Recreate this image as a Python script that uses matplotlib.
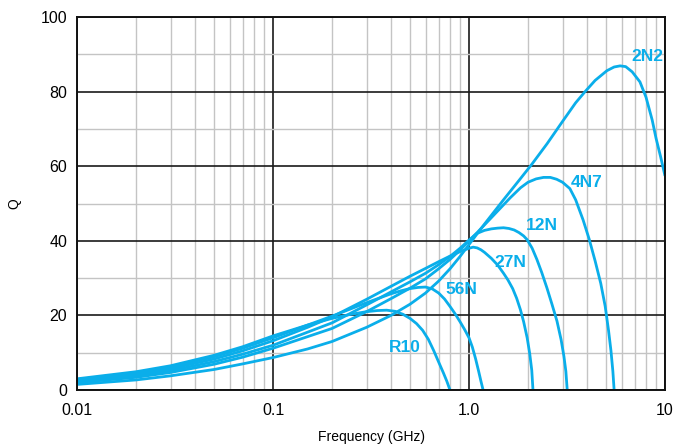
import numpy as np
import matplotlib.pyplot as plt
from matplotlib.ticker import FixedLocator, NullFormatter

plt.rcParams['font.family'] = ['Liberation Sans', 'DejaVu Sans']

# Q проти частоти для шести номіналів
f_r10 = [0.01, 0.02, 0.03, 0.05, 0.07, 0.1, 0.15, 0.2, 0.25, 0.3, 0.34, 0.38, 0.42, 0.46,
         0.5, 0.54, 0.58, 0.62, 0.66, 0.70, 0.74, 0.77, 0.80]
q_r10 = [3.0, 4.9, 6.5, 9.3, 11.6, 14.5, 17.4, 19.2, 20.3, 21.0, 21.3, 21.4, 21.1, 20.3,
         19.2, 17.8, 16.0, 13.6, 10.6, 7.5, 4.6, 2.4, 0.0]

f_56n = [0.01, 0.02, 0.03, 0.05, 0.07, 0.1, 0.15, 0.2, 0.3, 0.4, 0.45, 0.5, 0.55, 0.6, 0.65,
         0.7, 0.75, 0.8, 0.85, 0.9, 0.95, 1.0, 1.04, 1.08, 1.12, 1.15, 1.18]
q_56n = [2.8, 4.6, 6.2, 8.9, 11.2, 14.0, 17.4, 19.8, 23.4, 25.8, 26.6, 27.2, 27.5, 27.6, 27.1,
         26.0, 24.4, 22.4, 20.4, 18.3, 16.2, 14.0, 11.5, 8.4, 5.0, 2.4, 0.0]

f_27n = [0.01, 0.02, 0.03, 0.05, 0.07, 0.1, 0.15, 0.2, 0.3, 0.4, 0.5, 0.6, 0.7, 0.8, 0.9,
         1.0, 1.05, 1.1, 1.15, 1.2, 1.3, 1.4, 1.5, 1.58, 1.67, 1.75, 1.83, 1.9, 1.98, 2.04,
         2.09, 2.12]
q_27n = [2.5, 4.2, 5.7, 8.3, 10.5, 13.2, 16.8, 19.6, 24.3, 27.8, 30.5, 32.6, 34.4, 35.9, 37.1,
         38.0, 38.3, 38.1, 37.6, 36.9, 35.3, 33.5, 31.3, 29.5, 27.2, 24.6, 21.5, 18.3, 14.0, 9.8,
         5.3, 0.0]

f_12n = [0.01, 0.02, 0.03, 0.05, 0.07, 0.1, 0.15, 0.2, 0.3, 0.4, 0.5, 0.6, 0.7, 0.8, 0.9,
         1.0, 1.1, 1.2, 1.3, 1.4, 1.5, 1.6, 1.7, 1.8, 1.9, 1.98, 2.1, 2.22, 2.35, 2.5, 2.65,
         2.81, 2.95, 3.05, 3.12, 3.17]
q_12n = [2.2, 3.8, 5.2, 7.6, 9.6, 12.0, 15.5, 18.0, 22.8, 26.3, 29.0, 31.3, 33.6, 35.8, 38.0,
         40.2, 42.0, 42.8, 43.2, 43.4, 43.5, 43.3, 42.9, 42.2, 41.3, 40.3, 38.0, 35.0, 31.5, 27.3, 23.0,
         18.5, 13.5, 9.0, 5.0, 0.0]

f_4n7 = [0.01, 0.02, 0.03, 0.05, 0.07, 0.1, 0.15, 0.2, 0.3, 0.4, 0.5, 0.6, 0.7, 0.8, 0.9,
         1.0, 1.1, 1.3, 1.62, 1.83, 2.0, 2.2, 2.4, 2.6, 2.8, 3.0, 3.27, 3.5, 3.82, 4.1, 4.4,
         4.7, 4.95, 5.15, 5.3, 5.42, 5.5]
q_4n7 = [2.0, 3.4, 4.7, 6.9, 8.8, 11.2, 14.3, 16.5, 21.0, 24.5, 27.3, 29.8, 32.5, 35.0, 37.5,
         40.0, 42.2, 46.2, 51.5, 54.2, 55.7, 56.6, 57.0, 57.0, 56.5, 55.7, 54.0, 51.0, 45.6, 40.5, 34.6,
         28.6, 22.5, 16.0, 10.5, 5.0, 0.0]

f_2n2 = [0.01, 0.02, 0.03, 0.05, 0.07, 0.1, 0.15, 0.2, 0.3, 0.4, 0.5, 0.6, 0.7, 0.8, 0.9,
         1.0, 1.2, 1.5, 1.8, 2.09, 2.5, 3.0, 3.5, 3.91, 4.4, 5.05, 5.5, 5.9, 6.3, 6.8, 7.45,
         8.0, 8.6, 9.0, 9.5, 10.0]
q_2n2 = [1.5, 2.7, 3.8, 5.5, 7.0, 8.7, 11.0, 13.0, 16.8, 20.0, 23.0, 26.0, 29.2, 32.5, 35.8,
         39.0, 44.5, 51.0, 56.2, 60.5, 66.0, 72.0, 77.0, 80.0, 83.0, 85.6, 86.6, 86.9, 86.7, 85.3, 82.6,
         78.5, 72.4, 67.5, 62.5, 57.4]

names = ['R10', '56N', '27N', '12N', '4N7', '2N2']
label_f = [0.39, 0.76, 1.35, 1.95, 3.3, 6.75]
label_q = [11.5, 27.0, 34.3, 44.0, 55.6, 89.3]

series = [(f_r10, q_r10), (f_56n, q_56n), (f_27n, q_27n),
          (f_12n, q_12n), (f_4n7, q_4n7), (f_2n2, q_2n2)]

blue = '#0aaeea'

fig = plt.figure(figsize=(6.75, 4.44), dpi=100)
ax = fig.add_axes([0.1141, 0.1216, 0.8711, 0.8401])
ax.set_xscale('log')
ax.set_xlim(0.01, 10)
ax.set_ylim(0, 100)

# сітка: декади та кожні 20 — чорні, решта — сірі
minor_x = [m * 10.0 ** e for e in (-2, -1, 0) for m in range(2, 10)]
ax.xaxis.set_minor_locator(FixedLocator(minor_x))
ax.xaxis.set_minor_formatter(NullFormatter())
ax.set_xticks([0.01, 0.1, 1, 10])
ax.set_xticklabels(['0.01', '0.1', '1.0', '10'])
ax.set_yticks([0, 20, 40, 60, 80, 100])
ax.yaxis.set_minor_locator(FixedLocator([10, 30, 50, 70, 90]))
ax.grid(which='minor', color='#c4c4c4', linewidth=1.0)
ax.grid(which='major', color='#1a1a1a', linewidth=1.2)
ax.set_axisbelow(True)
ax.tick_params(which='both', length=0, labelsize=11.5)
ax.tick_params(axis='x', pad=9)
ax.tick_params(axis='y', pad=7)
for s in ax.spines.values():
    s.set_linewidth(1.4)
    s.set_color('#111111')

for (f, q), name, lf, lq in zip(series, names, label_f, label_q):
    ax.plot(f, q, color=blue, linewidth=2.0, solid_capstyle='butt', solid_joinstyle='round')
    ax.text(lf, lq, name, color=blue, fontsize=12.5, fontweight='bold',
            ha='left', va='center')

ax.set_xlabel('Frequency (GHz)', fontsize=10, labelpad=9)
ax.set_ylabel('Q', fontsize=10, labelpad=14)

fig.savefig('out.png', dpi=100)
